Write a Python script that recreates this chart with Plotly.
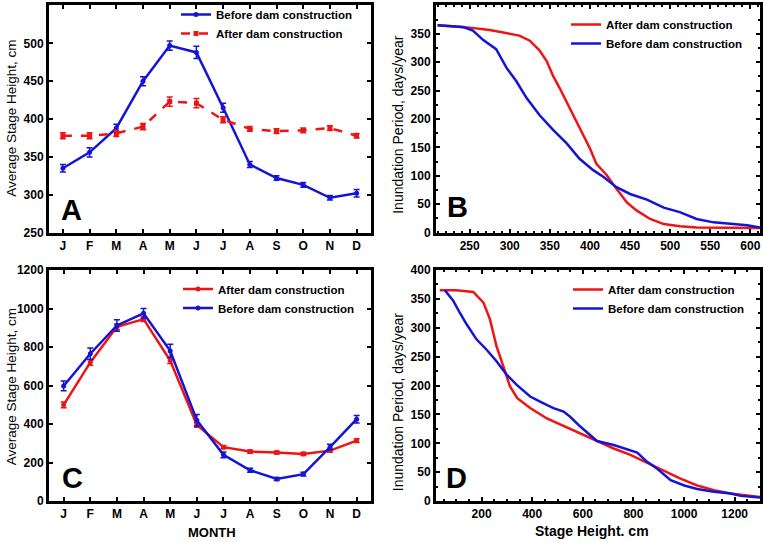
import plotly.graph_objects as go

W, H = 763, 542

months = list(range(1, 13))
month_labels = ["J", "F", "M", "A", "M", "J", "J", "A", "S", "O", "N", "D"]

# Panel A
A_before = [335, 356, 388, 450, 497, 488, 415, 340, 322, 313, 296, 302]
A_before_err = [5, 6, 5, 6, 6, 8, 6, 4, 3, 3, 3, 5]
A_after = [378, 378, 381, 390, 423, 421, 399, 387, 384, 385, 388, 378]
A_after_err = [4, 4, 4, 4, 6, 6, 4, 3, 3, 3, 3, 3]

# Panel C
C_after = [500, 720, 905, 945, 730, 395, 280, 257, 252, 245, 262, 314]
C_after_err = [15, 15, 15, 12, 15, 12, 8, 8, 8, 8, 8, 10]
C_before = [598, 765, 912, 975, 780, 420, 240, 160, 115, 140, 280, 425]
C_before_err = [25, 30, 30, 25, 35, 30, 15, 10, 8, 10, 15, 20]

# Panel B
B_after_x = [210, 250, 275, 300, 312, 325, 337, 346, 354, 362, 375, 387, 400, 408, 421, 433, 446, 458, 475, 492, 512, 533, 575, 612]
B_after_y = [365, 361, 357, 351, 347, 338, 321, 302, 276, 255, 219, 184, 148, 121, 101, 77, 53, 39, 24, 15, 11, 9, 8, 8]
B_before_x = [210, 242, 254, 267, 283, 296, 308, 321, 337, 354, 371, 387, 404, 417, 433, 450, 471, 492, 512, 533, 554, 575, 596, 612]
B_before_y = [365, 362, 356, 339, 323, 290, 267, 237, 207, 181, 157, 130, 110, 98, 80, 68, 58, 44, 36, 24, 18, 15, 13, 9]

# Panel D
D_after_x = [35, 100, 167, 207, 233, 259, 286, 312, 341, 392, 458, 524, 590, 656, 722, 788, 854, 920, 986, 1052, 1118, 1184, 1251, 1300]
D_after_y = [365, 365, 362, 344, 315, 268, 233, 199, 178, 161, 143, 130, 116, 104, 91, 80, 66, 53, 39, 27, 19, 13, 9, 7]
D_before_x = [55, 88, 114, 141, 180, 220, 259, 299, 339, 392, 431, 484, 524, 550, 590, 630, 656, 722, 762, 815, 854, 894, 947, 1001, 1052, 1118, 1184, 1224, 1300]
D_before_y = [365, 347, 326, 306, 280, 262, 242, 219, 201, 181, 172, 161, 155, 146, 129, 113, 104, 97, 91, 84, 68, 56, 36, 27, 21, 16, 13, 9, 6]

BLUE = "#1414d6"
RED = "#ee1414"
FONT = "Liberation Sans, Arial, sans-serif"

fig = go.Figure()

# A
fig.add_trace(go.Scatter(x=months, y=A_before, mode="lines+markers", name="Before dam construction",
                         line=dict(color=BLUE, width=2.5), marker=dict(color=BLUE, size=5),
                         error_y=dict(type="data", array=A_before_err, color=BLUE, thickness=1.5, width=3),
                         xaxis="x", yaxis="y", legend="legend"))
fig.add_trace(go.Scatter(x=months, y=A_after, mode="lines+markers", name="After dam construction",
                         line=dict(color=RED, width=2.5, dash="dash"), marker=dict(color=RED, size=5, symbol="square"),
                         error_y=dict(type="data", array=A_after_err, color=RED, thickness=1.5, width=3),
                         xaxis="x", yaxis="y", legend="legend"))
# B
fig.add_trace(go.Scatter(x=B_after_x, y=B_after_y, mode="lines", name="After dam construction",
                         line=dict(color=RED, width=2.5), xaxis="x2", yaxis="y2", legend="legend2"))
fig.add_trace(go.Scatter(x=B_before_x, y=B_before_y, mode="lines", name="Before dam construction",
                         line=dict(color=BLUE, width=2.5), xaxis="x2", yaxis="y2", legend="legend2"))
# C
fig.add_trace(go.Scatter(x=months, y=C_after, mode="lines+markers", name="After dam construction",
                         line=dict(color=RED, width=2.5), marker=dict(color=RED, size=5),
                         error_y=dict(type="data", array=C_after_err, color=RED, thickness=1.5, width=3),
                         xaxis="x3", yaxis="y3", legend="legend3"))
fig.add_trace(go.Scatter(x=months, y=C_before, mode="lines+markers", name="Before dam construction",
                         line=dict(color=BLUE, width=2.5), marker=dict(color=BLUE, size=5),
                         error_y=dict(type="data", array=C_before_err, color=BLUE, thickness=1.5, width=3),
                         xaxis="x3", yaxis="y3", legend="legend3"))
# D
fig.add_trace(go.Scatter(x=D_after_x, y=D_after_y, mode="lines", name="After dam construction",
                         line=dict(color=RED, width=2.5), xaxis="x4", yaxis="y4", legend="legend4"))
fig.add_trace(go.Scatter(x=D_before_x, y=D_before_y, mode="lines", name="Before dam construction",
                         line=dict(color=BLUE, width=2.5), xaxis="x4", yaxis="y4", legend="legend4"))

xl = [49 / W, 370.5 / W]
xr = [436 / W, 760 / W]
yt = [1 - 232 / H, 1 - 4.5 / H]
yb = [1 - 501 / H, 1 - 269.5 / H]

tickfont = dict(family=FONT, size=12, color="black", weight="bold")


def ax(domain, anchor, **kw):
    d = dict(domain=domain, anchor=anchor, showline=True, linewidth=3, linecolor="black",
             mirror="ticks", ticks="inside", ticklen=4, tickwidth=2, tickcolor="black",
             showgrid=False, zeroline=False, tickfont=tickfont, automargin=False)
    d.update(kw)
    return d


minor_x = dict(ticks="inside", ticklen=2, tickwidth=1.5, tickcolor="black", nticks=5, showgrid=False)
minor_y = dict(ticks="inside", ticklen=2, tickwidth=1.5, tickcolor="black", nticks=4, showgrid=False)

legfont = dict(family=FONT, size=11.5, color="black", weight="bold")


def leg(xt, ytop):
    return dict(x=(xt - 40) / W, y=1 - ytop / H, xanchor="left", yanchor="top",
                bgcolor="rgba(0,0,0,0)", font=legfont, borderwidth=0, tracegroupgap=0)


fig.update_layout(
    width=W, height=H, margin=dict(l=0, r=0, t=0, b=0),
    paper_bgcolor="white", plot_bgcolor="white",
    font=dict(family=FONT, color="black"),
    xaxis=ax(xl, "y", range=[0.48, 12.52], tickvals=months, ticktext=month_labels),
    yaxis=ax(yt, "x", range=[250, 550], dtick=50),
    xaxis2=ax(xr, "y2", range=[208, 612], dtick=50, tick0=0, minor=minor_x),
    yaxis2=ax(yt, "x2", range=[0, 400], dtick=50, minor=minor_y),
    xaxis3=ax(xl, "y3", range=[0.45, 12.52], tickvals=months, ticktext=month_labels),
    yaxis3=ax(yb, "x3", range=[0, 1200], dtick=200),
    xaxis4=ax(xr, "y4", range=[20, 1300], dtick=200, tick0=0, minor=minor_x),
    yaxis4=ax(yb, "x4", range=[0, 400], dtick=50, minor=minor_y),
    legend=leg(216, -1.5),
    legend2=leg(606, 10),
    legend3=leg(218, 274.5),
    legend4=leg(608, 275),
    showlegend=True,
)

letters = [("A", 71, 209), ("B", 457, 206), ("C", 72, 478), ("D", 456, 478)]
for t, px, py in letters:
    fig.add_annotation(text=t, x=px / W, y=1 - py / H, xref="paper", yref="paper", showarrow=False,
                       xanchor="center", yanchor="middle",
                       font=dict(family=FONT, size=29, color="black", weight="bold"))

titles = [
    ("Average Stage Height, cm", 12, 118, -90, 13.5, "normal"),
    ("Inundation Period, days/year", 398, 123, -90, 14, "normal"),
    ("Average Stage Height, cm", 11, 387, -90, 13.5, "normal"),
    ("Inundation Period, days/year", 398, 401, -90, 14, "normal"),
    ("MONTH", 212, 532, 0, 13, "bold"),
    ("Stage Height. cm", 592, 531, 0, 14, "bold"),
]
for t, px, py, ang, sz, wt in titles:
    fig.add_annotation(text=t, x=px / W, y=1 - py / H, xref="paper", yref="paper", showarrow=False,
                       xanchor="center", yanchor="middle", textangle=ang,
                       font=dict(family=FONT, size=sz, color="black", weight=wt))

fig.write_html("out.html", config={"displayModeBar": False},
               post_script="document.body.style.margin='0';document.body.style.overflow='hidden';")
